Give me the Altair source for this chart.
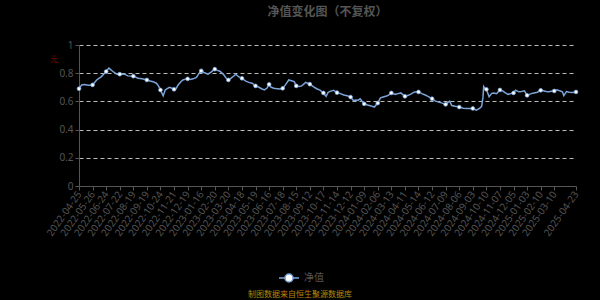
import json
import altair as alt
import pandas as pd

# trading-day index (0 = 2022-04-25) and net value
day = [0, 4, 8, 14, 20, 26, 33, 40, 44, 50, 55, 60, 67, 72, 80, 87, 93, 100, 105, 109,
       114, 117, 120, 124, 127, 130, 133, 136, 140, 143, 146, 150, 153, 157, 160, 164, 168, 173, 177, 180,
       184, 190, 195, 200, 204, 208, 213, 216, 220, 224, 228, 231, 235, 240, 245, 250, 255, 260, 265, 269,
       273, 277, 280, 283, 287, 292, 296, 300, 304, 309, 314, 317, 320, 324, 328, 334, 340, 345, 350, 355,
       360, 364, 367, 370, 375, 380, 385, 390, 395, 400, 404, 408, 411, 414, 420, 425, 430, 435, 440, 444,
       448, 453, 456, 460, 466, 470, 474, 480, 485, 490, 494, 500, 505, 510, 514, 520, 525, 530, 535, 540,
       544, 546, 549, 554, 560, 566, 572, 580, 585, 590, 593, 595, 596, 598, 600, 604, 608, 611, 615, 620,
       624, 628, 632, 636, 640, 643, 648, 652, 656, 660, 666, 670, 675, 680, 684, 688, 692, 696, 700, 704,
       708, 712, 714, 718, 722, 727, 732]
value = [0.690, 0.717, 0.720, 0.715, 0.717, 0.752, 0.776, 0.812, 0.836, 0.812, 0.795, 0.793, 0.793, 0.781, 0.779, 0.764, 0.760, 0.752, 0.745, 0.740,
         0.729, 0.710, 0.681, 0.640, 0.681, 0.690, 0.700, 0.695, 0.686, 0.690, 0.717, 0.740, 0.752, 0.758, 0.760, 0.755, 0.760, 0.770, 0.800, 0.817,
         0.805, 0.793, 0.810, 0.829, 0.820, 0.812, 0.790, 0.770, 0.752, 0.765, 0.780, 0.793, 0.775, 0.764, 0.745, 0.735, 0.729, 0.710, 0.700, 0.690,
         0.681, 0.695, 0.721, 0.700, 0.693, 0.690, 0.688, 0.693, 0.717, 0.752, 0.745, 0.740, 0.710, 0.705, 0.710, 0.735, 0.722, 0.705, 0.690, 0.680,
         0.660, 0.636, 0.665, 0.671, 0.679, 0.662, 0.655, 0.645, 0.640, 0.631, 0.607, 0.610, 0.607, 0.619, 0.583, 0.575, 0.568, 0.560, 0.588, 0.625,
         0.631, 0.638, 0.645, 0.660, 0.650, 0.655, 0.660, 0.636, 0.643, 0.655, 0.667, 0.667, 0.655, 0.645, 0.636, 0.619, 0.602, 0.595, 0.588, 0.579,
         0.595, 0.602, 0.571, 0.565, 0.560, 0.552, 0.550, 0.550, 0.538, 0.550, 0.565, 0.630, 0.705, 0.690, 0.686, 0.633, 0.657, 0.660, 0.655, 0.681,
         0.675, 0.660, 0.650, 0.655, 0.660, 0.679, 0.668, 0.671, 0.675, 0.643, 0.655, 0.660, 0.665, 0.679, 0.675, 0.671, 0.668, 0.672, 0.674, 0.683,
         0.675, 0.668, 0.641, 0.670, 0.665, 0.663, 0.667]

tick_labels = ["2022-04-25", "2022-05-26", "2022-06-24", "2022-07-22", "2022-08-19", "2022-09-19",
               "2022-10-24", "2022-11-21", "2022-12-19", "2023-01-16", "2023-02-20", "2023-03-20",
               "2023-04-18", "2023-05-19", "2023-06-16", "2023-07-18", "2023-08-15", "2023-09-12",
               "2023-10-17", "2023-11-14", "2023-12-12", "2024-01-09", "2024-02-06", "2024-03-13",
               "2024-04-11", "2024-05-14", "2024-06-12", "2024-07-09", "2024-08-06", "2024-09-03",
               "2024-10-10", "2024-11-07", "2024-12-05", "2025-01-03", "2025-02-10", "2025-03-10",
               "2025-04-23"]
tick_days = [i * 20 for i in range(36)] + [732]
y_ticks = [0, 0.2, 0.4, 0.6, 0.8, 1]

series = ["净值"]

df = pd.DataFrame({"day": day, "value": value, "series": series[0]})
df["marker"] = df["day"].isin(tick_days)

label_expr = "{}[indexof({}, datum.value)]".format(json.dumps(tick_labels), json.dumps(tick_days))

LINE = "#7ba4d9"
GREY = "#555555"

x_enc = alt.X("day:Q",
              scale=alt.Scale(domain=[0, 732], nice=False, zero=False),
              axis=alt.Axis(values=tick_days, tickCount=100, labelExpr=label_expr, labelAngle=-55,
                            labelAlign="right", labelBaseline="middle", labelFontSize=10,
                            labelColor=GREY, labelPadding=2, tickColor=GREY, tickSize=4,
                            domainColor=GREY, grid=False, title=None, labelOverlap=False,
                            labelFlush=False, labelFont="Noto Sans"))
y_enc = alt.Y("value:Q",
              scale=alt.Scale(domain=[0, 1], nice=False),
              axis=alt.Axis(values=y_ticks, tickCount=20, format="~g", labelColor=GREY,
                            labelFontSize=10, labelFont="Noto Sans", tickColor=GREY, tickSize=4,
                            domainColor=GREY, gridColor="#bbbbbb", gridDash=[4, 3], gridWidth=1,
                            labelOverlap=False, labelFlush=False,
                            title="元", titleAngle=0, titleColor="#8b0000", titleFontSize=8,
                            titleFontWeight="normal", titleX=-26, titleY=18))

line = alt.Chart(df).mark_line(strokeWidth=1.5).encode(
    x=x_enc, y=y_enc,
    color=alt.Color("series:N", scale=alt.Scale(domain=series, range=[LINE]),
                    legend=alt.Legend(orient="none", legendX=199, legendY=222, title=None,
                                      symbolType="M-1,0L-0.4,0M0.4,0L1,0M-0.4,0A0.4,0.4 0 1,1 0.4,0A0.4,0.4 0 1,1 -0.4,0",
                                      symbolSize=400, symbolFillColor="white", symbolStrokeColor=LINE,
                                      symbolStrokeWidth=1.5, labelColor=GREY, labelFontSize=10,
                                      labelFont="Noto Sans CJK SC")),
)

points = alt.Chart(df).transform_filter("datum.marker").mark_point(
    filled=True, fill="white", stroke=LINE, strokeWidth=0.8, size=14, opacity=1
).encode(x="day:Q", y="value:Q")

footer = alt.Chart(pd.DataFrame({"t": ["制图数据来自恒生聚源数据库"]})).mark_text(
    color="#b8860b", fontSize=8, font="Noto Sans CJK SC", align="center", baseline="middle"
).encode(x=alt.value(221), y=alt.value(250), text="t:N")

chart = alt.layer(line, points, footer).properties(
    width=497, height=141,
    autosize=alt.AutoSizeParams(type="none"),
    padding={"left": 79, "top": 45, "right": 24, "bottom": 114},
    background="black",
    title=alt.TitleParams("净值变化图（不复权）", color="#555555", fontSize=12, fontWeight="bold",
                          font="Noto Sans CJK SC", anchor="middle", offset=21),
).configure_view(stroke=None)

chart.save("out.html", embed_options={"renderer": "svg", "actions": False})
